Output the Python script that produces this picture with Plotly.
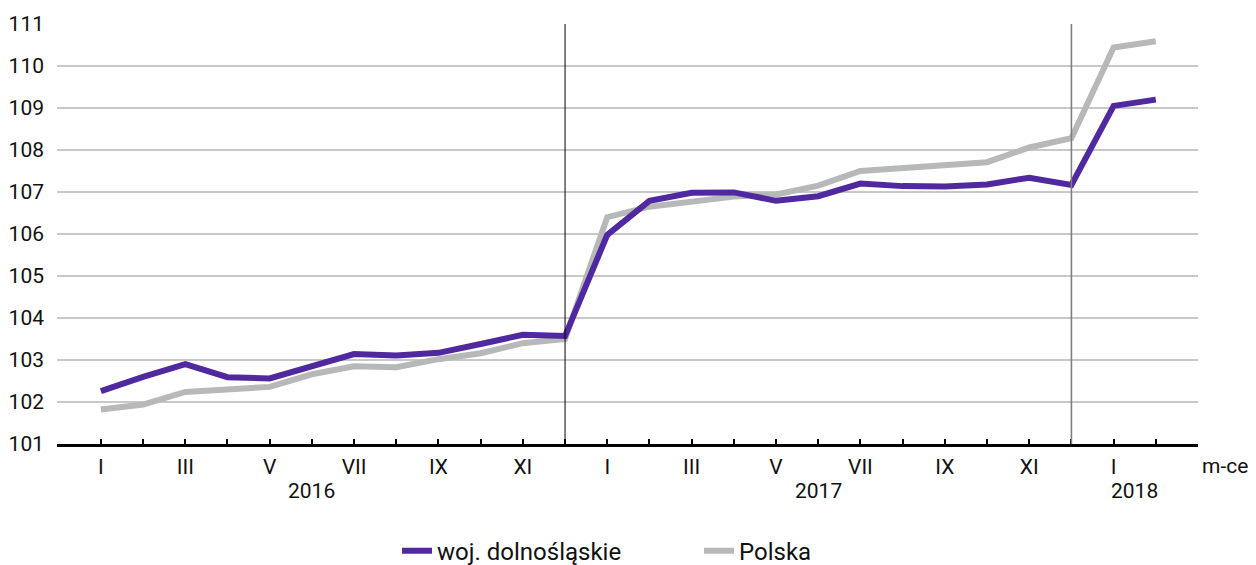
import plotly.graph_objects as go

months = ["I", "II", "III", "IV", "V", "VI", "VII", "VIII", "IX", "X", "XI", "XII",
          "I", "II", "III", "IV", "V", "VI", "VII", "VIII", "IX", "X", "XI", "XII",
          "I", "II"]
years = [2016] * 12 + [2017] * 12 + [2018] * 2

dolnoslaskie = [102.26, 102.60, 102.90, 102.59, 102.56, 102.86, 103.14, 103.11, 103.17, 103.38, 103.60, 103.57,
                105.98, 106.79, 106.98, 106.99, 106.79, 106.90, 107.20, 107.14, 107.13, 107.18, 107.34, 107.17,
                109.05, 109.20]
polska = [101.82, 101.94, 102.24, 102.29, 102.36, 102.66, 102.85, 102.83, 103.02, 103.16, 103.40, 103.50,
          106.40, 106.65, 106.77, 106.89, 106.94, 107.15, 107.50, 107.56, 107.63, 107.71, 108.06, 108.28,
          110.44, 110.59]

series_names = ["woj. dolnośląskie", "Polska"]
colors = ["#50289F", "#B7B9B9"]

FONT = "Roboto"
x = list(range(len(months)))
x_min, x_max = -1.04, 26.0
y_min, y_max = 101, 111

fig = go.Figure()
# gray first so purple is drawn on top; legend order reversed
fig.add_trace(go.Scatter(x=x, y=polska, mode="lines", name=series_names[1],
                         line=dict(color=colors[1], width=6)))
fig.add_trace(go.Scatter(x=x, y=dolnoslaskie, mode="lines", name=series_names[0],
                         line=dict(color=colors[0], width=6)))

ticktext = [m if i % 2 == 0 else "" for i, m in enumerate(months)]

# year separators: last month index of each year except final
seps = [i for i in range(len(years) - 1) if years[i] != years[i + 1]]
sep_colors = ["#000000", "#7f7f7f"]
sep_widths = [1, 1.6]
for s, c, w in zip(seps, sep_colors, sep_widths):
    fig.add_shape(type="line", xref="x", yref="y", x0=s, x1=s, y0=y_min, y1=y_max,
                  line=dict(color=c, width=w), layer="above")

bounds = [x_min] + seps + [x_max]
uniq_years = []
for y in years:
    if y not in uniq_years:
        uniq_years.append(y)
for k, yr in enumerate(uniq_years):
    fig.add_annotation(x=(bounds[k] + bounds[k + 1]) / 2, xref="x", y=-0.112, yref="paper",
                       text=str(yr), showarrow=False, xanchor="center", yanchor="middle",
                       font=dict(family=FONT, size=21, color="#111111"))

fig.add_annotation(x=1.0237, xref="paper", y=-0.052, yref="paper", text="m-ce",
                   showarrow=False, xanchor="center", yanchor="middle",
                   font=dict(family=FONT, size=21, color="#111111"))

# page body has an 8px default margin: figure is offset by 8px
fig.update_layout(
    width=1248, height=557,
    margin=dict(l=49, r=58, t=16, b=121, autoexpand=False),
    paper_bgcolor="white", plot_bgcolor="white",
    font=dict(family=FONT, size=21, color="#111111"),
    showlegend=True,
    legend=dict(orientation="h", x=0.298, xanchor="left", y=-0.255, yanchor="middle",
                font=dict(family=FONT, size=24, color="#111111"),
                traceorder="reversed", entrywidth=257, entrywidthmode="pixels"),
    xaxis=dict(range=[x_min, x_max], tickmode="array", tickvals=x, ticktext=ticktext,
               showline=True, linecolor="black", linewidth=2.5,
               ticks="inside", ticklen=5, tickwidth=1.5, tickcolor="black",
               showgrid=False, zeroline=False, ticklabelstandoff=2, automargin=False,
               tickfont=dict(family=FONT, size=21, color="#111111")),
    yaxis=dict(range=[y_min, y_max], dtick=1, tick0=101, showgrid=True,
               gridcolor="#c8c8c8", gridwidth=1.5, zeroline=False, showline=False,
               ticks="", ticklabelstandoff=12, automargin=False,
               tickfont=dict(family=FONT, size=21, color="#111111")),
)

fig.write_html("out.html")
